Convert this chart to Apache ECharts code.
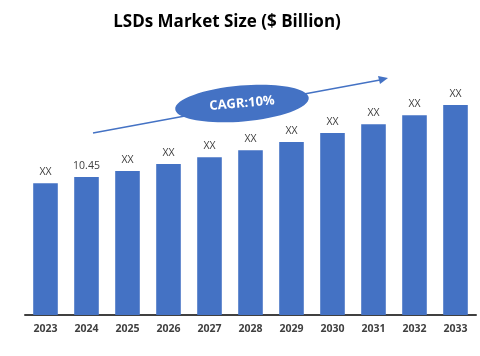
<!DOCTYPE html>
<html><head><meta charset="utf-8">
<script src="https://cdn.jsdelivr.net/npm/echarts@6/dist/echarts.min.js"></script>
<style>html,body{margin:0;padding:0;background:#fff}#c{width:480px;height:356px}</style>
</head><body><div id="c"></div>
<script>
const categories = ['2023','2024','2025','2026','2027','2028','2029','2030','2031','2032','2033'];
const values = [9.99, 10.45, 10.90, 11.43, 11.96, 12.49, 13.10, 13.78, 14.46, 15.14, 15.90];
const labels = ['XX','10.45','XX','XX','XX','XX','XX','XX','XX','XX','XX'];
const titleText = 'LSDs Market Size ($ Billion)';
const cagrText = 'CAGR:10%';

const chart = echarts.init(document.getElementById('c'), null, {renderer:'canvas'});
const blue = '#4472C4';
chart.setOption({
  animation:false,
  title:{text:titleText, left:222, top:9, textAlign:'center',
    textStyle:{fontFamily:'Open Sans', fontWeight:'bold', fontSize:17, color:'#000'}},
  grid:{left:25, right:4, bottom:41, height:264, containLabel:false},
  xAxis:{type:'category', data:categories,
    axisLine:{lineStyle:{color:'#404040', width:2}},
    axisTick:{show:false},
    axisLabel:{color:'#404040', fontWeight:'bold', fontSize:10.5, fontFamily:'Open Sans', margin:9}},
  yAxis:{type:'value', min:0, max:20, show:false, splitLine:{show:false}},
  series:[{type:'bar', data:values, barWidth:'60%', itemStyle:{color:blue},
    label:{show:true, position:'top', distance:6, fontSize:10.5, fontFamily:'Open Sans', color:'#404040',
      formatter:p=>labels[p.dataIndex]}}],
  graphic:[
    {type:'line', shape:{x1:93,y1:133,x2:380,y2:80}, style:{stroke:blue, lineWidth:1.3}},
    {type:'polygon', shape:{points:[[388,78],[378,76],[380,84]]}, style:{fill:blue}},
    {type:'ellipse', x:242, y:103.5, rotation:5*Math.PI/180, shape:{cx:0,cy:0,rx:67,ry:18}, style:{fill:blue}},
    {type:'text', x:242, y:103.5, rotation:5*Math.PI/180,
      style:{text:cagrText, fill:'#fff', font:'bold 13px "Open Sans"', textAlign:'center', textVerticalAlign:'middle'}}
  ]
});
</script></body></html>
